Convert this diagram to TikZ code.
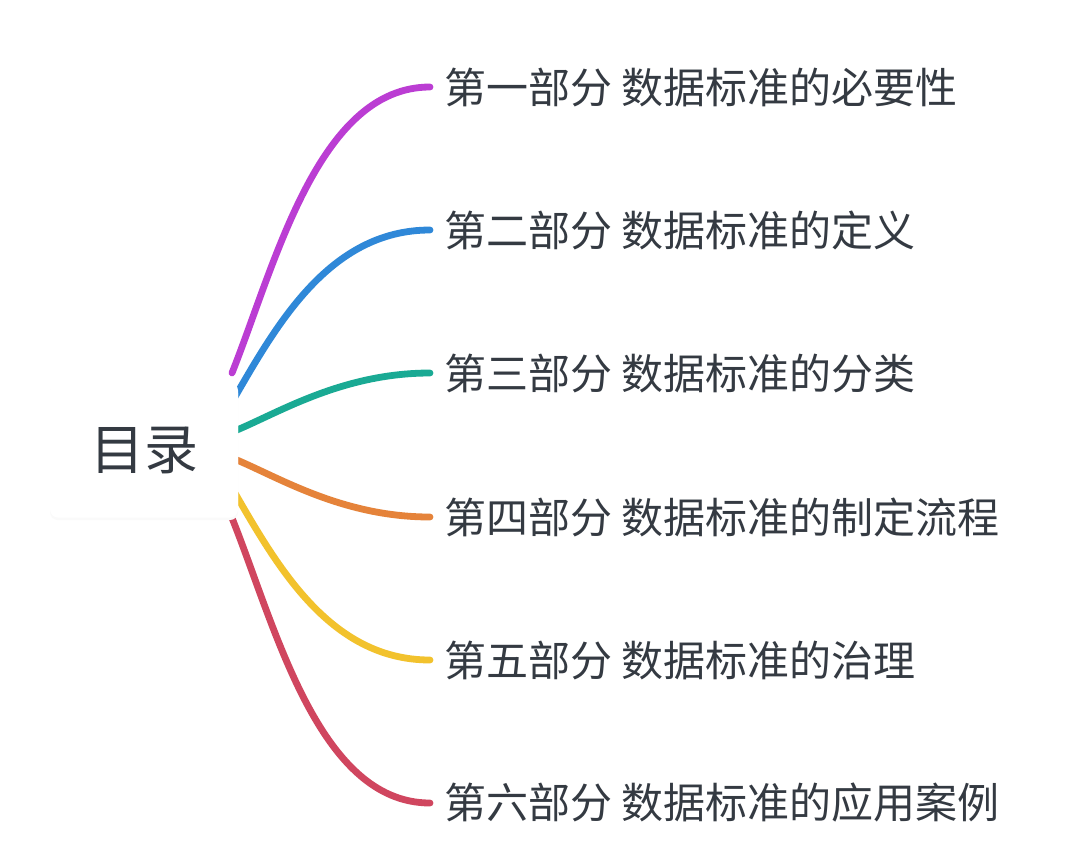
\documentclass[tikz,border=0pt]{standalone}
\usepackage{fontspec}
\newfontfamily\cjk{Noto Sans CJK SC}
\definecolor{cpurple}{HTML}{BB3DD3}
\definecolor{cblue}{HTML}{2F88D8}
\definecolor{cteal}{HTML}{1AAA94}
\definecolor{corange}{HTML}{E5833A}
\definecolor{cyellow}{HTML}{F2C22D}
\definecolor{cred}{HTML}{D0465F}
\definecolor{ctext}{HTML}{343A42}
\begin{document}
\begin{tikzpicture}[x=1pt,y=-1pt,
  branch/.style={line width=6.8pt,line cap=round},
  leaf/.style={anchor=west,inner xsep=14pt,inner ysep=0pt,text=ctext,font=\cjk\fontsize{42}{42}\selectfont},
  rootbox/.style={fill=white,rounded corners=8pt,minimum width=188pt,minimum height=135pt,inner sep=0pt,text=ctext,font=\cjk\fontsize{54}{54}\selectfont}]
\useasboundingbox (0,0) rectangle (1074,863);
\fill[white] (0,0) rectangle (1074,863);
% start points
\coordinate (s1) at (232,373);
\coordinate (s2) at (232,402);
\coordinate (s3) at (232,432);
\coordinate (s4) at (232,458);
\coordinate (s5) at (232,488);
\coordinate (s6) at (232,518);
% leaves
\node[leaf] (l1) at (430,87) {第一部分 数据标准的必要性};
\node[leaf] (l2) at (430,230) {第二部分 数据标准的定义};
\node[leaf] (l3) at (430,373) {第三部分 数据标准的分类};
\node[leaf] (l4) at (430,517) {第四部分 数据标准的制定流程};
\node[leaf] (l5) at (430,660) {第五部分 数据标准的治理};
\node[leaf] (l6) at (430,803) {第六部分 数据标准的应用案例};
% branches
\draw[branch,cpurple] (s1) .. controls (275,265) and (318,87) .. (l1.west);
\draw[branch,cblue] (s2) .. controls (275,328) and (328,230) .. (l2.west);
\draw[branch,cteal] (s3) .. controls (275,415) and (340,373) .. (l3.west);
\draw[branch,corange] (s4) .. controls (275,475) and (340,517) .. (l4.west);
\draw[branch,cyellow] (s5) .. controls (275,562) and (328,660) .. (l5.west);
\draw[branch,cred] (s6) .. controls (275,625) and (318,803) .. (l6.west);
% root
\fill[black!2,rounded corners=8pt] (50,385) rectangle (238,520);
\node[rootbox] (root) at (144,450) {目录};
\end{tikzpicture}
\end{document}
